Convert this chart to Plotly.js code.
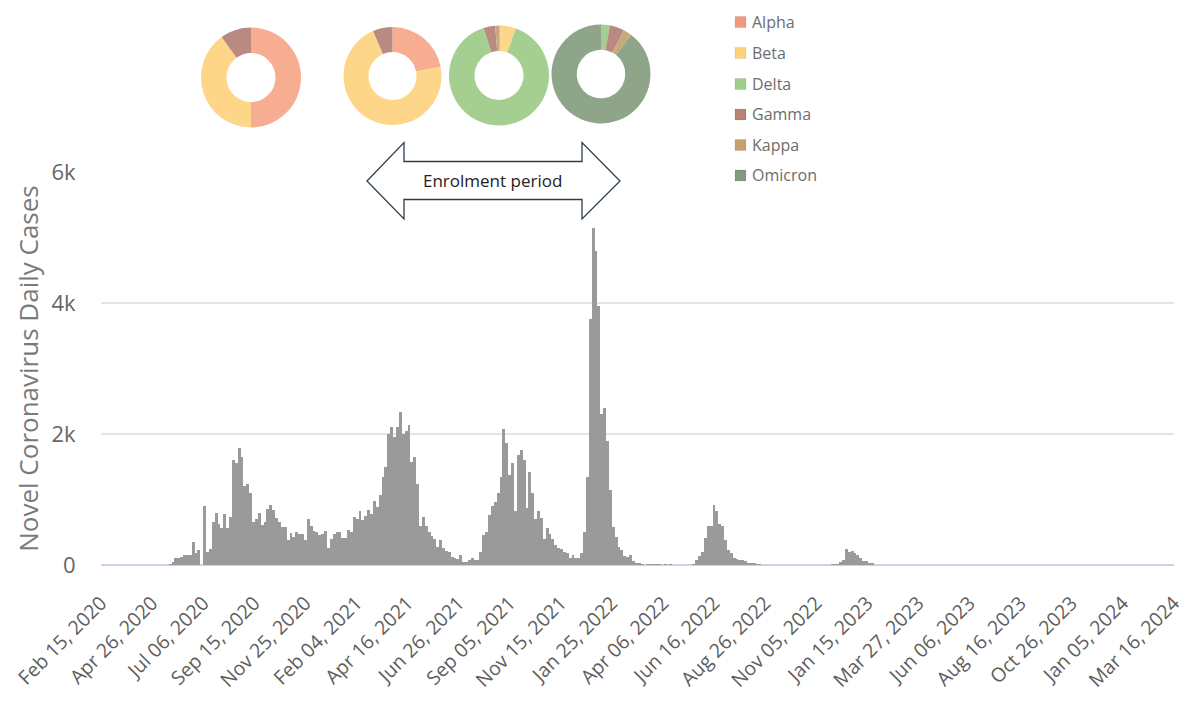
<!DOCTYPE html>
<html>
<head>
<meta charset="utf-8">
<script src="https://cdn.plot.ly/plotly-3.0.1.min.js"></script>
<style>html,body{margin:0;padding:0;background:#fff;}#chart{width:1185px;height:707px;}</style>
</head>
<body>
<div id="chart"></div>
<script>
// ---------- DATA ----------
// Daily cases in 4-day bins starting 2020-05-15
const binStart = '2020-05-15';
const binDays = 4;
const dailyCases = [
  0, 20, 50, 100, 110, 125, 150, 160, 150, 356,
  180, 230, 0, 900, 200, 250, 660, 800, 620, 560,
  780, 560, 730, 1600, 1550, 1780, 1650, 1200, 1240, 1100,
  660, 700, 800, 610, 660, 850, 920, 840, 720, 650,
  580, 580, 380, 490, 420, 510, 470, 480, 380, 700,
  600, 520, 509, 460, 470, 520, 260, 400, 470, 510,
  510, 407, 407, 530, 509, 740, 710, 830, 690, 750,
  840, 780, 980, 880, 1070, 1350, 1500, 2000, 2100, 1950,
  2100, 2340, 2000, 2050, 2140, 1580, 1650, 1230, 600, 740,
  600, 500, 450, 390, 280, 380, 260, 220, 200, 120,
  100, 90, 150, 50, 50, 80, 100, 75, 80, 200,
  458, 500, 760, 900, 967, 1100, 1350, 2080, 1860, 1374,
  1550, 820, 1680, 1750, 1600, 870, 1420, 1100, 710, 820,
  720, 400, 560, 480, 400, 300, 255, 240, 200, 180,
  110, 150, 100, 100, 180, 500, 1350, 3750, 5150, 4800,
  3950, 2300, 2400, 1900, 1150, 580, 420, 270, 230, 130,
  120, 160, 60, 25, 25, 20, 0, 20, 20, 20,
  20, 20, 0, 20, 0, 20, 0, 0, 0, 0,
  0, 0, 0, 20, 70, 130, 200, 407, 600, 600,
  920, 830, 620, 600, 380, 235, 180, 102, 90, 76,
  70, 60, 35, 25, 25, 20, 20, 0, 0, 0,
  0, 0, 0, 0, 0, 0, 0, 0, 0, 0,
  0, 0, 0, 0, 0, 0, 0, 0, 0, 0,
  0, 15, 15, 10, 51, 80, 240, 200, 220, 180,
  150, 100, 60, 55, 35, 30
];

const tickDates = ['2020-02-15','2020-04-26','2020-07-06','2020-09-15','2020-11-25','2021-02-04',
  '2021-04-16','2021-06-26','2021-09-05','2021-11-15','2022-01-25','2022-04-06','2022-06-16',
  '2022-08-26','2022-11-05','2023-01-15','2023-03-27','2023-06-06','2023-08-16','2023-10-26',
  '2024-01-05','2024-03-16'];
const yTickVals = [0, 2000, 4000, 6000];
const yTickText = ['0', '2k', '4k', '6k'];

const variants = ['Alpha', 'Beta', 'Delta', 'Gamma', 'Kappa', 'Omicron'];
const variantColors = ['#F6AD91', '#FED68A', '#A5CF91', '#B98A7F', '#C8A97B', '#8EA58A'];
const legendColors = ['#F3987C', '#FDD27A', '#9FCD8A', '#B88274', '#C4A16F', '#7F9C7B'];
// variant share (%) in each of the four donuts
const donut1 = [50, 40, 0, 10, 0, 0];
const donut2 = [22, 71.5, 0, 6.5, 0, 0];
const donut3 = [0.5, 5, 89.5, 3.8, 1.2, 0];
const donut4 = [0, 0, 2.9, 4.8, 2.8, 89.5];

const arrowLabel = 'Enrolment period';
const yTitle = 'Novel Coronavirus Daily Cases';

// ---------- LAYOUT HELPERS ----------
const W = 1185, H = 707;
const M = {l: 101, r: 11, t: 10, b: 142};
const PW = W - M.l - M.r, PH = H - M.t - M.b;
const px2x = p => (p - M.l) / PW;
const py2y = p => (H - M.b - p) / PH;
const plotTopPx = 172;

// bar positions from bin index
const DAY = 86400000;
const t0 = Date.parse(binStart + 'T00:00:00Z');
const barX = dailyCases.map((_, i) => new Date(t0 + (i * binDays + binDays / 2) * DAY).toISOString().slice(0, 10));

const traces = [{
  type: 'bar',
  x: barX,
  y: dailyCases,
  width: binDays * DAY,
  marker: {color: '#9a9a9a', line: {width: 0}},
  showlegend: false,
  hoverinfo: 'x+y'
}];

function donut(values, cx, cy, r) {
  return {
    type: 'pie',
    labels: variants,
    values: values,
    hole: 0.49,
    sort: false,
    direction: 'clockwise',
    rotation: 0,
    textinfo: 'none',
    marker: {colors: variantColors, line: {width: 0}},
    showlegend: false,
    domain: {x: [px2x(cx - r), px2x(cx + r)], y: [py2y(cy + r), py2y(cy - r)]}
  };
}
traces.push(donut(donut1, 251, 77.5, 50));
traces.push(donut(donut2, 392.5, 76, 49));
traces.push(donut(donut3, 499, 75.5, 50));
traces.push(donut(donut4, 601, 74, 49.5));

// arrow outline (pixels -> paper)
const arrowPts = [[367,181],[404,142.5],[404,161.5],[582,161.5],[582,142.5],[620,181],
  [582,219],[582,199.5],[404,199.5],[404,219]];
const arrowPath = 'M' + arrowPts.map(p => px2x(p[0]).toFixed(5) + ',' + py2y(p[1]).toFixed(5)).join(' L') + ' Z';

const shapes = [
  {type: 'rect', xref: 'paper', yref: 'paper', x0: px2x(727), x1: px2x(832), y0: py2y(192), y1: py2y(4),
   fillcolor: '#ffffff', line: {width: 0}, layer: 'above'},
  {type: 'path', xref: 'paper', yref: 'paper', path: arrowPath, fillcolor: '#ffffff',
   line: {color: '#2c3d4c', width: 1.3}, layer: 'above'}
];
const annotations = [
  {xref: 'paper', yref: 'paper', x: px2x(492), y: py2y(181), text: arrowLabel, showarrow: false,
   font: {family: 'Open Sans', size: 17, color: '#222'}, xanchor: 'center', yanchor: 'middle'}
];
const legY = [22, 53, 84, 114.5, 145, 175.5];
variants.forEach((v, i) => {
  shapes.push({type: 'rect', xref: 'paper', yref: 'paper', x0: px2x(735), x1: px2x(746),
    y0: py2y(legY[i] + 5.5), y1: py2y(legY[i] - 5.5), fillcolor: legendColors[i],
    line: {width: 0.6, color: 'rgba(0,0,0,0.12)'}, layer: 'above'});
  annotations.push({xref: 'paper', yref: 'paper', x: px2x(750), y: py2y(legY[i]), text: v,
    showarrow: false, xanchor: 'left', yanchor: 'middle',
    font: {family: 'Open Sans', size: 16, color: '#6d6d6d'}});
});

const layout = {
  width: W, height: H,
  margin: M,
  paper_bgcolor: '#fff', plot_bgcolor: '#fff',
  font: {family: 'Open Sans', color: '#666'},
  bargap: 0,
  xaxis: {
    type: 'date',
    range: ['2020-02-15', '2024-03-16 08:00'],
    tickmode: 'array',
    tickvals: tickDates,
    tickformat: '%b %d, %Y',
    tickangle: -45,
    tickfont: {family: 'Open Sans', size: 19.5, color: '#5e5e5e'},
    ticks: 'outside', ticklen: 18, tickcolor: 'rgba(0,0,0,0)',
    showgrid: false, zeroline: false, showline: false,
    fixedrange: true
  },
  yaxis: {
    domain: [0, py2y(plotTopPx)],
    range: [0, 6000],
    tickmode: 'array',
    tickvals: yTickVals,
    ticktext: yTickText,
    tickfont: {family: 'Open Sans', size: 22, color: '#666'},
    ticks: 'outside', ticklen: 20, tickcolor: 'rgba(0,0,0,0)',
    showgrid: true, gridcolor: '#e4e4e4', gridwidth: 1.5,
    zeroline: true, zerolinecolor: '#cdd1ea', zerolinewidth: 2,
    showline: false,
    title: {text: yTitle, font: {family: 'Open Sans', size: 26, color: '#7a7a7a'}, standoff: 5},
    fixedrange: true
  },
  shapes: shapes,
  annotations: annotations
};

Plotly.newPlot('chart', traces, layout, {displayModeBar: false, staticPlot: true});
</script>
</body>
</html>
